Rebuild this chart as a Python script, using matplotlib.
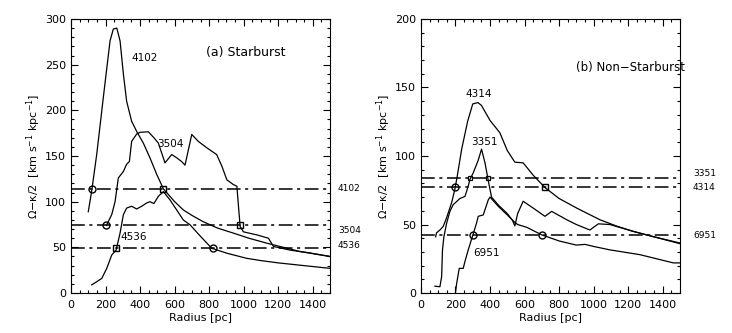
import matplotlib
matplotlib.use("Agg")
import matplotlib.pyplot as plt
from matplotlib.ticker import MultipleLocator

plt.rcParams['font.family'] = ['DejaVu Sans']

# ---- (a) starburst ----
r_4102 = [100, 120, 149, 187, 226, 245, 265, 284, 303, 322, 351, 380, 419, 457, 496, 535,
          600, 650, 700, 766, 850, 940, 1030, 1133, 1230, 1326, 1420, 1500]
v_4102 = [89, 112, 152, 214, 276, 289, 290, 276, 240, 210, 188, 177, 164, 148, 130, 114,
          100, 91, 85, 78, 71, 65.6, 60, 54.6, 50, 45.4, 42.5, 40]

r_3504 = [205, 236, 255, 274, 303, 322, 338, 351, 380, 400, 448, 480, 506, 544, 583, 612,
          640, 660, 699, 737, 786, 843, 873, 902, 940, 960, 979, 998, 1075, 1143, 1172,
          1268, 1380, 1500]
v_3504 = [74, 86, 100, 126, 133, 141, 144, 166, 174, 176, 176.5, 170, 164, 142.5, 151.6,
          148, 144, 140, 173.6, 166, 159, 151.6, 139, 124, 118.7, 117, 73, 67, 63.7, 60,
          51, 47, 44, 40]

r_4536 = [120, 149, 178, 207, 236, 261, 284, 303, 322, 351, 380, 409, 438, 457, 480, 506,
          535, 573, 650, 689, 750, 815, 902, 1017, 1100, 1200, 1300, 1400, 1500]
v_4536 = [9, 12.4, 16, 27, 41.7, 47, 65.6, 85.7, 93, 95, 92, 95, 98.6, 100, 98, 106,
          111, 102, 80, 74.7, 62, 49, 43.6, 38, 35.5, 33, 31, 29, 27]

lev_a = {'4102': 114, '3504': 75, '4536': 49}

# ---- (b) non-starburst ----
r_4314 = [85, 91, 110, 129, 149, 178, 197, 210, 236, 270, 300, 330, 350, 400, 457, 500,
          544, 592, 650, 718, 800, 902, 1036, 1130, 1229, 1350, 1500]
v_4314 = [41, 44, 46, 48.6, 55, 66, 76, 85, 105, 125, 138, 139, 137, 126, 117, 104,
          95.5, 95, 86, 77, 69, 62, 53.5, 49, 45, 41, 36.5]

r_3351 = [81, 110, 120, 125, 133, 149, 168, 187, 226, 255, 274, 284, 303, 332, 351, 371,
          390, 409, 450, 500, 530, 544, 560, 592, 650, 718, 757, 844, 900, 978, 1027,
          1094, 1229, 1350, 1500]
v_3351 = [5, 4.6, 12, 31.5, 41, 51, 59.6, 64.5, 69, 70.5, 78, 83, 87.7, 97, 105, 95,
          82, 70, 64, 58, 53, 49, 58, 67, 62, 56, 59.6, 53.5, 50, 46, 50.5,
          50, 45, 41, 36]

r_6951 = [200, 207, 222, 245, 255, 274, 300, 322, 332, 361, 390, 400, 450, 500, 540,
          560, 612, 699, 800, 900, 950, 1000, 1094, 1268, 1461, 1500]
v_6951 = [0, 7, 18, 18, 23, 31.5, 42, 51, 56, 57, 68, 70, 63, 57, 52,
          50, 48, 42.5, 38, 35, 35.5, 34, 31.5, 28, 22, 22]

lev_b = {'3351': 84, '4314': 77.5, '6951': 42}

fig = plt.figure(figsize=(7.32, 3.33), dpi=100)
axa = fig.add_axes([0.097, 0.120, 0.354, 0.823])
axb = fig.add_axes([0.575, 0.120, 0.354, 0.823])

dashdot = (0, (9, 3, 2, 3))


def style(ax, ymax):
    ax.set_xlim(0, 1500)
    ax.set_ylim(0, ymax)
    ax.xaxis.set_major_locator(MultipleLocator(200))
    ax.xaxis.set_minor_locator(MultipleLocator(50))
    ax.yaxis.set_major_locator(MultipleLocator(50))
    ax.yaxis.set_minor_locator(MultipleLocator(10))
    ax.tick_params(which='both', direction='in', top=True, right=True,
                   labelsize=8, width=0.8)
    ax.tick_params(which='major', length=5)
    ax.tick_params(which='minor', length=2.5)
    ax.tick_params(axis='x', pad=5)
    ax.set_xlabel('Radius [pc]', fontsize=8, labelpad=2)
    ax.set_ylabel('Ω−κ/2  [km s$^{-1}$ kpc$^{-1}$]', fontsize=8, labelpad=1.5)
    for s in ax.spines.values():
        s.set_linewidth(0.8)


# panel a
for r, v in [(r_4102, v_4102), (r_3504, v_3504), (r_4536, v_4536)]:
    axa.plot(r, v, color='black', lw=0.9)
for name, y in lev_a.items():
    axa.axhline(y, color='black', lw=1.1, ls=dashdot)
axa.plot([120, 205, 820], [lev_a['4102'], lev_a['3504'], lev_a['4536']], 'o',
         mfc='none', mec='black', ms=5, mew=1)
axa.plot([535, 979, 261], [lev_a['4102'], lev_a['3504'], lev_a['4536']], 's',
         mfc='none', mec='black', ms=4.5, mew=1)
axa.text(350, 254, '4102', fontsize=7.5)
axa.text(500, 160, '3504', fontsize=7.5)
axa.text(285, 58, '4536', fontsize=7.5)
axa.text(780, 260, '(a) Starburst', fontsize=9)
for name, y in [('4102', 114), ('3504', 68), ('4536', 52)]:
    axa.text(1.03, y, name, fontsize=6.5, va='center',
             transform=axa.get_yaxis_transform())
style(axa, 300)

# panel b
for r, v in [(r_4314, v_4314), (r_3351, v_3351), (r_6951, v_6951)]:
    axb.plot(r, v, color='black', lw=0.9)
for name, y in lev_b.items():
    axb.axhline(y, color='black', lw=1.1, ls=dashdot)
axb.plot([197, 300, 699], [lev_b['4314'], lev_b['6951'], lev_b['6951']], 'o',
         mfc='none', mec='black', ms=5, mew=1)
axb.plot([718], [lev_b['4314']], 's', mfc='none', mec='black', ms=4.5, mew=1)
axb.plot([284, 390], [lev_b['3351'], lev_b['3351']], 's', mfc='none',
         mec='black', ms=3, mew=0.9)
axb.text(255, 143, '4314', fontsize=7.5)
axb.text(290, 108, '3351', fontsize=7.5)
axb.text(305, 27, '6951', fontsize=7.5)
axb.text(900, 162, '(b) Non\u2212Starburst', fontsize=8.5)
for name, y in [('3351', 87), ('4314', 77), ('6951', 42)]:
    axb.text(1.05, y, name, fontsize=6.5, va='center',
             transform=axb.get_yaxis_transform())
style(axb, 200)

fig.savefig('out.png', dpi=100)
